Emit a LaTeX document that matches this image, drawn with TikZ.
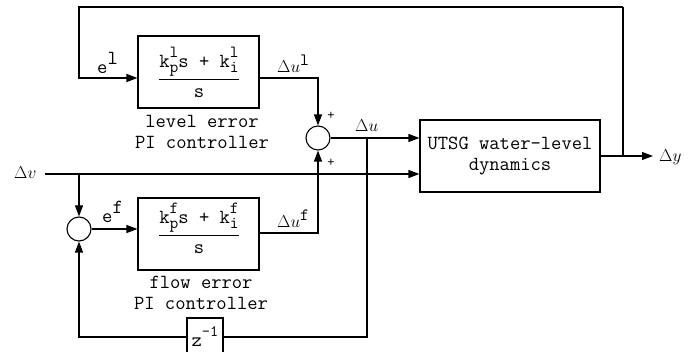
\RequirePackage{fix-cm}
\documentclass[tikz,border=0pt]{standalone}
\usepackage{amsmath}
\usetikzlibrary{arrows.meta}
\tikzset{
  blk/.style={draw, line width=1.1pt, minimum width=121pt, minimum height=72pt, inner sep=0pt},
  sumc/.style={draw, circle, line width=1.1pt, minimum size=24pt, inner sep=0pt},
  wire/.style={line width=1.1pt},
  arr/.style={wire, -{Triangle[length=11pt,width=8pt]}},
  tt/.style={font=\fontsize{20}{21}\selectfont\ttfamily, inner sep=0pt},
  lab/.style={font=\fontsize{17.28}{20}\selectfont\ttfamily, inner sep=0pt},
  pls/.style={font=\fontsize{14}{16}\selectfont\ttfamily, inner sep=0pt},
}
\newcommand\rsup[1]{\raisebox{0.45em}{#1}}
\newcommand\kscr[2]{k\raisebox{10pt}{\makebox[0pt][l]{\fontsize{17}{17}\selectfont #1}}\raisebox{-5pt}{\fontsize{17}{17}\selectfont #2}}
\newcommand\pifrac[1]{$\displaystyle\frac{\hbox{\kscr{#1}{p}s + \kscr{#1}{i}}}{\hbox{s}}$}
\begin{document}
\begin{tikzpicture}[x=1pt,y=-1pt]
\useasboundingbox (0,0) rectangle (697,352);
\clip (0,0) rectangle (697,352);

% blocks
\node[blk] (lvl) at (198.5,72) {};
\node[tt, anchor=base] (lvlf) at (199,84) {\pifrac{l}};
\node[tt, align=center] (lvlt) at (202,132) {level error\\PI controller};

\node[blk] (flw) at (198.5,234) {};
\node[tt, anchor=base] (flwf) at (199,240) {\pifrac{f}};
\node[tt, align=center] (flwt) at (201,293) {flow error\\PI controller};

\node[blk, tt, minimum width=180pt, align=center] (plant) at (510,156) {UTSG water-level\\dynamics};

\node[draw, line width=1.1pt, minimum width=36pt, minimum height=38pt, inner sep=0pt, tt] (zb) at (205,337)
  {\raisebox{-2pt}{z}\raisebox{8pt}{\fontsize{16}{16}\selectfont -1}};

\node[sumc] (sumu) at (318,138) {};
\node[sumc] (sumf) at (79,229) {};

% coordinates
\coordinate (tl) at (79,7);
\coordinate (tr) at (623,7);
\coordinate (l78) at (79,78);
\coordinate (f233) at (0,233);
\coordinate (vin) at (45,174);
\coordinate (bu) at (367,138);
\coordinate (bo) at (623,156);
\coordinate (yout) at (653,156);

% connectors
\draw[arr] (tr) -- (tl) -- (l78) -- (l78 -| lvl.west);
\draw[arr] (l78 -| lvl.east) -| (sumu.north);
\draw[arr] (f233 -| flw.east) -| (sumu.south);
\draw[arr] (sumu.east) -- (sumu.east -| plant.west);
\draw[arr] (vin) -- (vin -| plant.west);
\draw[arr] (vin -| sumf) -- (sumf.north);
\draw[arr] (sumf.east) -- (sumf.east -| flw.west);
\draw[wire] (bu) |- (zb.east);
\draw[arr] (zb.west) -| (sumf.south);
\draw[arr] (plant.east) -- (yout);
\draw[wire] (bo) -- (tr);

% labels
\node[tt, anchor=base west] (el) at (97,74) {e\rsup{l}};
\node[tt, anchor=base west] (ef) at (102,223) {e\rsup{f}};
\node[lab, anchor=base west] (dul) at (277,73) {$\Delta u$\rsup{l}};
\node[lab, anchor=base west] (duf) at (277,228) {$\Delta u$\rsup{f}};
\node[lab, anchor=base west] (du) at (355,132) {$\Delta u$};
\node[lab, anchor=base west] (dv) at (14,179) {$\Delta v$};
\node[lab, anchor=base west] (dy) at (659,162) {$\Delta y$};
\node[pls] (p1) at (331,116) {+};
\node[pls] (p2) at (331,163) {+};
\end{tikzpicture}
\end{document}
